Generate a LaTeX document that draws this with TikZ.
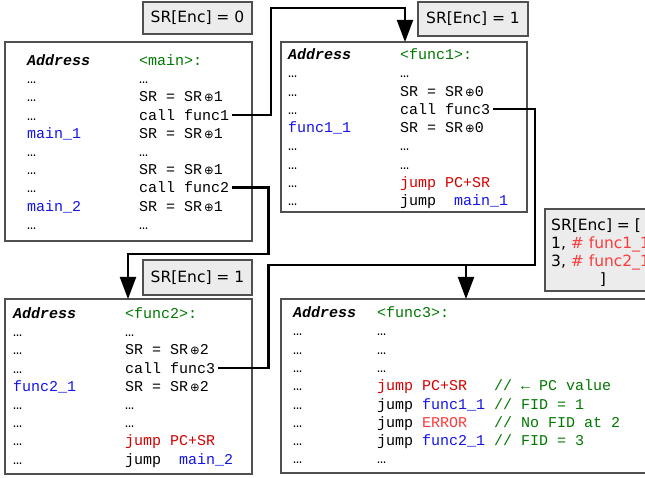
\documentclass[tikz,border=0pt]{standalone}
\usepackage{xcolor}
\usepackage{fontspec}
\setmainfont{DejaVu Sans}
\setmonofont{Liberation Mono}
\newfontfamily\symfam{DejaVu Sans}
\usepackage{tikz}
\usetikzlibrary{positioning,calc,arrows.meta}
\definecolor{codegreen}{RGB}{0,120,0}
\definecolor{codeblue}{RGB}{20,20,235}
\definecolor{codered}{RGB}{215,0,0}
\definecolor{lightred}{RGB}{250,60,60}
\definecolor{boxgray}{RGB}{80,80,80}
\definecolor{tagfill}{RGB}{236,236,236}
\newcommand{\opx}{{\symfam\fontsize{11.5}{11}\selectfont\,⊕}}

\tikzset{
	codebox/.style={draw=boxgray, line width=1.2pt, fill=white, anchor=north west, inner sep=0pt, outer sep=0pt},
	tagbox/.style={draw=boxgray, line width=1.2pt, fill=tagfill, anchor=north west, inner sep=0pt, outer sep=0pt, font=\fontsize{15.5}{18}\selectfont},
	tagline/.style={anchor=base west, inner sep=0pt, font=\fontsize{15.5}{18}\selectfont},
	code/.style={anchor=base west, inner sep=0pt, font=\ttfamily\fontsize{15}{18}\selectfont},
	addr/.style={code, font=\ttfamily\bfseries\itshape\fontsize{15}{18}\selectfont},
	flow/.style={line width=2.1pt, -{Triangle[width=16pt,length=22pt]}, shorten <=3pt},
	wire/.style={line width=2.1pt, shorten <=3pt, shorten >=3pt}
}

\begin{document}
\begin{tikzpicture}[x=1pt,y=-1pt]
	\useasboundingbox (0,0) rectangle (645,478);
	\clip (0,0) rectangle (645,478);
	
	% Kasten main
	\node[codebox, minimum width=247pt, minimum height=199pt] (mainbox) at (5,42) {};
	\node[tagbox, minimum width=109pt, minimum height=32pt] (tag0) at (143,2) {SR[Enc] = 0};
	\node[addr] (mhead) at (27,65.5) {Address};
	\node[code] (mname) at (139,65.5) {\textcolor{codegreen}{<main>:}};
	\foreach \r in {1,2,3,5,6,7,9} {
		\node[code] (madr\r) at (27,65.5+18.2*\r) {…};
	}
	\node[code] (mlab1) at (27,65.5+18.2*4) {\textcolor{codeblue}{main\_1}};
	\node[code] (mlab2) at (27,65.5+18.2*8) {\textcolor{codeblue}{main\_2}};
	\node[code] (mc1) at (139,65.5+18.2*1) {…};
	\node[code] (mc2) at (139,65.5+18.2*2) {SR = SR\opx1};
	\node[code] (mcall1) at (139,65.5+18.2*3) {call func1};
	\node[code] (mc4) at (139,65.5+18.2*4) {SR = SR\opx1};
	\node[code] (mc5) at (139,65.5+18.2*5) {…};
	\node[code] (mc6) at (139,65.5+18.2*6) {SR = SR\opx1};
	\node[code] (mcall2) at (139,65.5+18.2*7) {call func2};
	\node[code] (mc8) at (139,65.5+18.2*8) {SR = SR\opx1};
	\node[code] (mc9) at (139,65.5+18.2*9) {…};
	
	% Kasten func1
	\node[codebox, minimum width=246pt, minimum height=170pt] (f1box) at (281,42) {};
	\node[tagbox, minimum width=110pt, minimum height=34pt] (tag1) at (418,2) {SR[Enc] = 1};
	\node[addr] (ahead) at (288,59.5) {Address};
	\node[code] (aname) at (400,59.5) {\textcolor{codegreen}{<func1>:}};
	\foreach \r in {1,2,3,5,6,7,8} {
		\node[code] (aadr\r) at (288,59.5+18.3*\r) {…};
	}
	\node[code] (alab1) at (288,59.5+18.3*4) {\textcolor{codeblue}{func1\_1}};
	\node[code] (ac1) at (400,59.5+18.3*1) {…};
	\node[code] (ac2) at (400,59.5+18.3*2) {SR = SR\opx0};
	\node[code] (f1call) at (400,59.5+18.3*3) {call func3};
	\node[code] (ac4) at (400,59.5+18.3*4) {SR = SR\opx0};
	\node[code] (ac5) at (400,59.5+18.3*5) {…};
	\node[code] (ac6) at (400,59.5+18.3*6) {…};
	\node[code] (ac7) at (400,59.5+18.3*7) {\textcolor{codered}{jump PC+SR}};
	\node[code] (ac8) at (400,59.5+18.3*8) {jump~~\textcolor{codeblue}{main\_1}};
	
	% Kasten func2
	\node[codebox, minimum width=247pt, minimum height=175pt] (f2box) at (5,299) {};
	\node[tagbox, minimum width=109pt, minimum height=35pt] (tag2) at (143,260) {SR[Enc] = 1};
	\node[addr] (bhead) at (13,318.5) {Address};
	\node[code] (bname) at (125,318.5) {\textcolor{codegreen}{<func2>:}};
	\foreach \r in {1,2,3,5,6,7,8} {
		\node[code] (badr\r) at (13,318.5+18.2*\r) {…};
	}
	\node[code] (blab1) at (13,318.5+18.2*4) {\textcolor{codeblue}{func2\_1}};
	\node[code] (bc1) at (125,318.5+18.2*1) {…};
	\node[code] (bc2) at (125,318.5+18.2*2) {SR = SR\opx2};
	\node[code] (f2call) at (125,318.5+18.2*3) {call func3};
	\node[code] (bc4) at (125,318.5+18.2*4) {SR = SR\opx2};
	\node[code] (bc5) at (125,318.5+18.2*5) {…};
	\node[code] (bc6) at (125,318.5+18.2*6) {…};
	\node[code] (bc7) at (125,318.5+18.2*7) {\textcolor{codered}{jump PC+SR}};
	\node[code] (bc8) at (125,318.5+18.2*8) {jump~~\textcolor{codeblue}{main\_2}};
	
	% Kasten func3
	\node[codebox, minimum width=379pt, minimum height=174pt] (f3box) at (281,299) {};
	\node[addr] (chead) at (293,317.5) {Address};
	\node[code] (cname) at (377,317.5) {\textcolor{codegreen}{<func3>:}};
	\foreach \r in {1,...,8} {
		\node[code] (cadr\r) at (293,317.5+18.3*\r) {…};
	}
	\foreach \r in {1,2,3,8} {
		\node[code] (cc\r) at (377,317.5+18.3*\r) {…};
	}
	\node[code] (cc4) at (377,317.5+18.3*4) {\textcolor{codered}{jump PC+SR}~~~\textcolor{codegreen}{// ← PC value}};
	\node[code] (cc5) at (377,317.5+18.3*5) {jump \textcolor{codeblue}{func1\_1} \textcolor{codegreen}{// FID = 1}};
	\node[code] (cc6) at (377,317.5+18.3*6) {jump \textcolor{lightred}{ERROR}~~~\textcolor{codegreen}{// No FID at 2}};
	\node[code] (cc7) at (377,317.5+18.3*7) {jump \textcolor{codeblue}{func2\_1} \textcolor{codegreen}{// FID = 3}};
	
	% Tabelle SR[Enc]
	\node[tagbox, minimum width=116pt, minimum height=82pt] (enctab) at (545,209) {};
	\node[tagline] (enc0) at (551,230.5) {SR[Enc] = [};
	\node[tagline] (enc1) at (551,248.5) {1, \textcolor{lightred}{\# func1\_1}};
	\node[tagline] (enc2) at (551,266.5) {3, \textcolor{lightred}{\# func2\_1}};
	\node[tagline, anchor=base] (enc3) at (603,284.5) {]};
	
	% Verbindungen
	\coordinate (up1) at (271,8);
	\coordinate (f1in) at (405,42);
	\draw[flow] (mcall1.east) -| (up1) -| (f1in);
	
	\coordinate (dn1) at (268.5,254);
	\coordinate (f2in) at (128,299);
	\draw[flow] (mcall2.east) -| (dn1) -| (f2in);
	
	\coordinate (rt1) at (535,265);
	\coordinate (lf1) at (268.5,265);
	\draw[wire] (f1call.east) -| (rt1) -- (lf1) |- (f2call.east);
	
	\coordinate (join) at (466,265);
	\coordinate (f3in) at (466,299);
	\draw[flow, shorten <=0pt] (join) -- (f3in);
\end{tikzpicture}
\end{document}
